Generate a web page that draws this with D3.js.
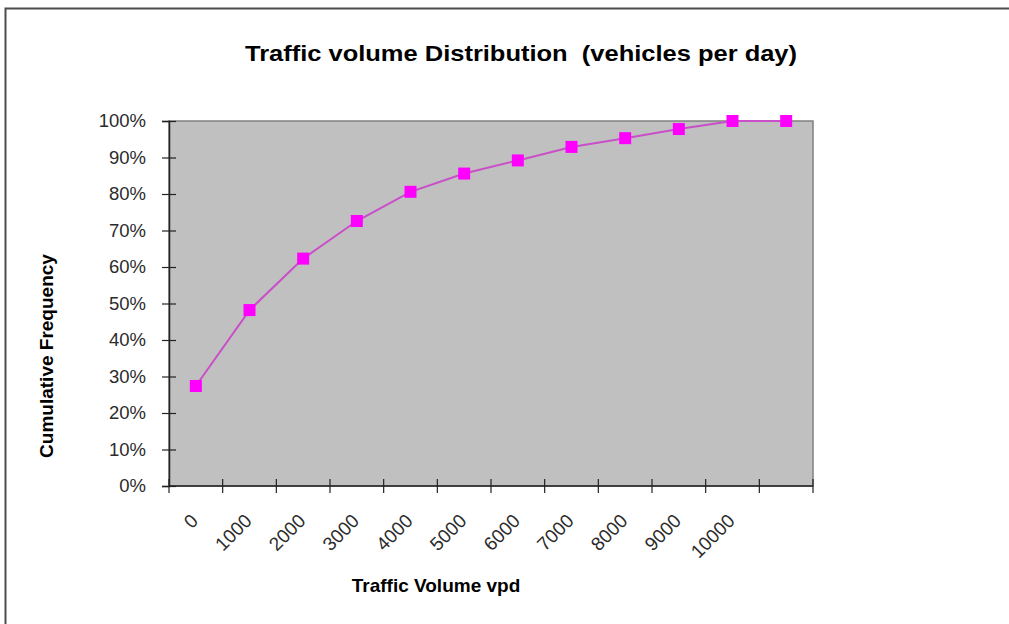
<!DOCTYPE html>
<html lang="en">
<head>
<meta charset="utf-8">
<title>Traffic volume Distribution</title>
<script src="https://cdn.jsdelivr.net/npm/d3@7"></script>
<style>
  body { margin: 0; background: #fff; overflow: hidden; }
  svg { display: block; }
  text { font-family: "Liberation Sans", Arial, sans-serif; }
</style>
</head>
<body>
<svg id="chart" width="1009" height="624"></svg>
<script>
// data
var categories = ['0', '1000', '2000', '3000', '4000', '5000', '6000', '7000', '8000', '9000', '10000', ''];
var cumFreq = [27.4, 48.2, 62.3, 72.6, 80.6, 85.6, 89.2, 92.9, 95.3, 97.8, 100, 100];
var yTicks = [0, 10, 20, 30, 40, 50, 60, 70, 80, 90, 100];

var svg = d3.select('#chart');
var plot = { left: 169, top: 121, right: 813, bottom: 486 };

// outer frame (only top and left show in the crop)
svg.append('path')
    .attr('d', 'M5.5,624 V8.5 H1009')
    .attr('fill', 'none')
    .attr('stroke', '#4d4d4d')
    .attr('stroke-width', 2);

var x = d3.scaleBand()
    .domain(d3.range(categories.length))
    .range([plot.left, plot.right]);

var y = d3.scaleLinear()
    .domain([0, 100])
    .range([plot.bottom, plot.top]);

// plot area
svg.append('rect')
    .attr('x', plot.left)
    .attr('y', plot.top)
    .attr('width', plot.right - plot.left)
    .attr('height', plot.bottom - plot.top)
    .attr('fill', '#c0c0c0')
    .attr('stroke', '#808080')
    .attr('stroke-width', 1.5);

// y axis
var yAxis = svg.append('g')
    .attr('transform', 'translate(' + plot.left + ',0)')
    .call(d3.axisLeft(y).tickValues(yTicks).tickSize(7).tickPadding(16)
        .tickFormat(function (d) { return d + '%'; }));
yAxis.select('.domain').attr('stroke', '#222').attr('stroke-width', 1.5);
yAxis.selectAll('.tick line').attr('x2', 7).attr('x1', -7).attr('stroke', '#222').attr('stroke-width', 1.2);
yAxis.selectAll('.tick text')
    .attr('font-size', '18.5px')
    .attr('fill', '#2b2b2b')
    .style('font-family', '"Liberation Sans", Arial, sans-serif');

// x axis line + ticks on band edges
var xg = svg.append('g');
xg.append('line')
    .attr('x1', plot.left).attr('x2', plot.right)
    .attr('y1', plot.bottom).attr('y2', plot.bottom)
    .attr('stroke', '#222').attr('stroke-width', 1.5);
xg.selectAll('line.tk')
    .data(d3.range(categories.length + 1))
    .join('line')
    .attr('class', 'tk')
    .attr('x1', function (i) { return plot.left + i * x.step(); })
    .attr('x2', function (i) { return plot.left + i * x.step(); })
    .attr('y1', plot.bottom - 7)
    .attr('y2', plot.bottom + 7)
    .attr('stroke', '#222').attr('stroke-width', 1.2);

xg.selectAll('text.lbl')
    .data(categories)
    .join('text')
    .attr('class', 'lbl')
    .attr('text-anchor', 'end')
    .attr('font-size', '19px')
    .attr('fill', '#2b2b2b')
    .attr('transform', function (d, i) {
        return 'translate(' + (x(i) + x.bandwidth() / 2 + 3.5) + ',' + (plot.bottom + 36) + ') rotate(-45)';
    })
    .text(function (d) { return d; });

// series line + square markers
var line = d3.line()
    .x(function (d, i) { return x(i) + x.bandwidth() / 2; })
    .y(function (d) { return y(d); });

svg.append('path')
    .datum(cumFreq)
    .attr('d', line)
    .attr('fill', 'none')
    .attr('stroke', '#c94fc9')
    .attr('stroke-width', 2);

var m = 12;
svg.selectAll('rect.mk')
    .data(cumFreq)
    .join('rect')
    .attr('class', 'mk')
    .attr('x', function (d, i) { return x(i) + x.bandwidth() / 2 - m / 2; })
    .attr('y', function (d) { return y(d) - m / 2; })
    .attr('width', m)
    .attr('height', m)
    .attr('fill', '#ff00ff');

// titles
svg.append('text')
    .attr('x', 521)
    .attr('y', 61)
    .attr('text-anchor', 'middle')
    .attr('font-size', '22px')
    .attr('font-weight', 'bold')
    .attr('textLength', 552)
    .attr('lengthAdjust', 'spacingAndGlyphs')
    .style('white-space', 'pre')
    .text('Traffic volume Distribution  (vehicles per day)');

svg.append('text')
    .attr('x', 436)
    .attr('y', 592)
    .attr('text-anchor', 'middle')
    .attr('font-size', '19px')
    .attr('font-weight', 'bold')
    .text('Traffic Volume vpd');

svg.append('text')
    .attr('transform', 'translate(53,356) rotate(-90)')
    .attr('text-anchor', 'middle')
    .attr('font-size', '19px')
    .attr('font-weight', 'bold')
    .text('Cumulative Frequency');
</script>
</body>
</html>
